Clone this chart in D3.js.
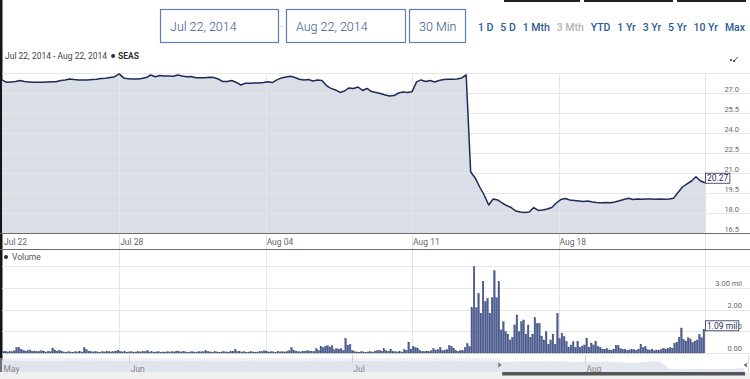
<!DOCTYPE html>
<html><head><meta charset="utf-8">
<script src="https://cdn.jsdelivr.net/npm/d3@7"></script>
<style>
body{margin:0;background:#fff;overflow:hidden;}
svg{display:block;font-family:Roboto,'Liberation Sans',sans-serif;}
</style>
</head><body>
<svg id="c" width="750" height="379"></svg>
<script>
// ---------------- DATA ----------------
const symbol = "SEAS";
const dateFrom = "Jul 22, 2014";
const dateTo = "Aug 22, 2014";
const intervalLabel = "30 Min";
const rangeButtons = ["1 D","5 D","1 Mth","3 Mth","YTD","1 Yr","3 Yr","5 Yr","10 Yr","Max"];
const selectedRange = "3 Mth";

const tradingDays = ["Jul 22","Jul 23","Jul 24","Jul 25","Jul 28","Jul 29","Jul 30","Jul 31","Aug 01",
  "Aug 04","Aug 05","Aug 06","Aug 07","Aug 08","Aug 11","Aug 12","Aug 13","Aug 14","Aug 15",
  "Aug 18","Aug 19","Aug 20","Aug 21","Aug 22"];
const tickLabels = ["Jul 22","Jul 28","Aug 04","Aug 11","Aug 18"];
const barsPerDay = 13;      // 30-minute bars per session
const priceStep = 2;        // price sampled every 2 bars

const prices = [
 27.98,27.80,27.83,27.86,27.93,27.86,27.83,27.80,27.80,27.80,27.83,27.85,27.85,27.94,27.98,28.05,28.01,27.98,27.98,27.98,
 28.01,28.03,28.09,28.10,28.16,28.22,28.43,28.13,28.06,28.05,28.05,28.09,28.16,28.35,28.22,28.31,28.28,28.28,28.25,28.35,
 28.28,28.22,28.24,28.15,28.15,28.15,28.18,28.16,28.05,27.86,27.86,27.94,27.79,27.60,27.73,27.73,27.75,27.75,27.78,27.85,
 27.78,27.98,28.13,28.20,28.25,28.16,28.03,27.98,28.01,27.90,27.98,27.93,27.56,27.35,27.23,27.04,27.15,27.38,27.34,27.45,
 27.19,27.34,27.11,27.04,26.96,26.85,26.78,26.81,27.00,27.08,27.04,27.10,27.83,27.98,27.86,27.94,27.83,27.94,28.01,28.03,
 28.03,28.05,28.13,28.35,21.08,20.63,19.95,19.35,18.60,19.05,18.98,18.75,18.56,18.41,18.15,18.08,18.04,18.08,18.41,18.19,
 18.23,18.30,18.41,18.75,19.01,19.09,18.98,18.94,18.90,18.86,18.90,18.83,18.79,18.77,18.79,18.77,18.83,18.92,19.01,19.10,
 19.01,19.05,19.03,19.05,19.05,19.03,19.05,19.03,19.05,19.10,19.54,19.95,20.18,20.40,20.72,20.40,20.27];

// volume in millions, one row of 13 half-hour bars per trading day
const volumes = [
 [0.06,0.08,0.05,0.07,0.06,0.10,0.25,0.25,0.17,0.12,0.09,0.10,0.14],
 [0.08,0.09,0.06,0.07,0.10,0.07,0.05,0.08,0.06,0.23,0.14,0.09,0.12],
 [0.06,0.05,0.04,0.06,0.05,0.04,0.06,0.05,0.07,0.05,0.25,0.15,0.08],
 [0.06,0.05,0.07,0.05,0.04,0.06,0.05,0.07,0.06,0.05,0.06,0.09,0.12],
 [0.07,0.05,0.06,0.04,0.05,0.06,0.04,0.05,0.06,0.05,0.07,0.06,0.11],
 [0.05,0.06,0.04,0.05,0.06,0.04,0.05,0.04,0.06,0.05,0.06,0.05,0.09],
 [0.06,0.05,0.08,0.05,0.04,0.05,0.06,0.04,0.05,0.06,0.05,0.07,0.10],
 [0.06,0.05,0.04,0.06,0.05,0.04,0.05,0.06,0.05,0.04,0.06,0.08,0.17],
 [0.07,0.06,0.05,0.06,0.04,0.05,0.06,0.05,0.04,0.05,0.06,0.07,0.10],
 [0.06,0.05,0.06,0.05,0.04,0.08,0.05,0.06,0.05,0.07,0.10,0.25,0.12],
 [0.08,0.06,0.05,0.09,0.08,0.10,0.09,0.06,0.07,0.20,0.12,0.30,0.25],
 [0.30,0.33,0.28,0.33,0.15,0.20,0.18,0.20,0.12,0.66,0.35,0.40,0.12],
 [0.06,0.05,0.04,0.06,0.05,0.04,0.05,0.06,0.04,0.09,0.10,0.12,0.09],
 [0.20,0.10,0.08,0.15,0.07,0.06,0.05,0.06,0.05,0.15,0.12,0.50,0.18],
 [0.30,0.25,0.20,0.10,0.08,0.07,0.09,0.06,0.10,0.20,0.12,0.15,0.25],
 [0.10,0.12,0.15,0.35,0.30,0.20,0.10,0.08,0.12,0.10,0.25,0.43,0.30],
 [2.08,3.97,2.08,2.74,1.82,3.30,2.36,2.51,1.82,2.54,3.78,2.54,3.28],
 [1.06,1.44,0.98,0.87,0.60,0.72,1.29,1.75,0.98,1.44,1.52,0.87,1.29],
 [0.72,0.87,1.62,1.36,1.36,0.78,0.60,0.98,0.40,0.60,0.87,0.40,1.82],
 [0.66,0.90,0.75,0.52,0.26,0.37,0.52,0.26,0.52,0.26,0.32,0.37,0.66],
 [0.26,0.46,0.37,0.52,0.30,0.26,0.18,0.15,0.20,0.14,0.12,0.18,0.35],
 [0.35,0.20,0.15,0.18,0.12,0.14,0.16,0.15,0.12,0.18,0.40,0.25,0.30],
 [0.15,0.12,0.18,0.10,0.14,0.12,0.16,0.22,0.18,0.20,0.25,0.22,0.45],
 [0.50,0.72,1.15,0.62,0.55,0.70,0.65,0.48,0.55,0.60,0.85,0.70,1.09]];

const priceTicks = [16.5,18.0,19.5,21.0,22.5,24.0,25.5,27.0];
const priceMax = 28.5;
const volumeTicks = [0,1,2,3];
const volumeMax = 4;

// navigator: daily closes May 14 – Aug 22, 2014
const navMonths = ["May","Jun","Jul","Aug"];
const navMonthDays = [12,21,22,16];
const navCloses = [
 29.1,29.0,28.8,28.9,28.6,28.7,28.9,29.0,29.2,29.0,28.8,28.9,
 28.7,28.5,28.6,28.4,28.3,28.5,28.6,28.4,28.2,28.0,28.1,28.3,28.4,28.2,28.0,27.9,28.1,28.3,28.4,28.2,28.3,
 28.5,28.6,28.7,28.4,28.2,28.3,28.1,28.2,28.4,28.3,28.5,28.2,28.0,27.9,27.9,27.8,28.0,28.1,28.3,28.2,28.1,27.8,
 27.8,27.9,28.1,27.2,27.0,27.0,27.9,28.3,18.6,18.1,18.4,19.0,18.8,19.0,19.1,20.3];
const navSelStart = 47;   // Jul 22 (trading-day index)
const navSelEnd = 70;     // Aug 22

// ---------------- DRAW ----------------
const svg = d3.select("#c");
const W = 750, H = 379;
const L = {x0:2, x1:705, pTop:73, pBot:233, sep2:249, vTop:266, vBot:353,
           navTop:355, navBot:372, navX0:2, navX1:744};
const navy = "#1f2b57", grid = "#e6e6e6", axisText = "#666";

const nBars = tradingDays.length * barsPerDay;
const x = d3.scaleLinear().domain([0, nBars]).range([L.x0, L.x1]);
const yP = d3.scaleLinear().domain([priceTicks[0], priceMax]).range([L.pBot, L.pTop]);
const yV = d3.scaleLinear().domain([0, volumeMax]).range([L.vBot, L.vTop]);

// left dark strip and top dark bars
svg.append("rect").attr("x",0).attr("y",0).attr("width",2.5).attr("height",H).attr("fill","#151515");
[[504,580],[584,673],[677,746]].forEach(([a,b])=>svg.append("rect").attr("x",a).attr("y",0).attr("width",b-a).attr("height",2).attr("fill","#222"));

// controls
function inputBox(x0, w, label){
  svg.append("rect").attr("x",x0+0.5).attr("y",9.5).attr("width",w).attr("height",33)
    .attr("fill","#fff").attr("stroke","#5d80b1").attr("stroke-width",1.2);
  svg.append("text").attr("x",x0+10).attr("y",31).attr("font-size",12.5).attr("font-weight",300)
    .attr("fill","#35578a").text(label);
}
inputBox(160,118,dateFrom);
svg.append("text").attr("x",282).attr("y",29).attr("font-size",8).attr("fill","#999").attr("text-anchor","middle").text("-");
inputBox(286,119,dateTo);
inputBox(409,56,intervalLabel);

const btnG = svg.append("g");
const btns = btnG.selectAll("text").data(rangeButtons).join("text")
  .attr("y",31).attr("font-size",10.5).attr("font-weight",500)
  .attr("fill",d=> d===selectedRange ? "#b3b3b3" : "#2b5a97").text(d=>d);
const widths = btns.nodes().map(n=>n.getComputedTextLength());
const bx0 = 478, bx1 = 745;
const gap = (bx1 - bx0 - d3.sum(widths)) / (rangeButtons.length-1);
let cx = bx0;
btns.each(function(d,i){ d3.select(this).attr("x",cx); cx += widths[i] + gap; });

// subtitle
const sub = svg.append("text").attr("x",5).attr("y",59).attr("font-size",8.5).attr("fill","#444").text(dateFrom+" - "+dateTo);
const sw = sub.node().getComputedTextLength();
svg.append("circle").attr("cx",5+sw+6).attr("cy",56).attr("r",2).attr("fill",navy);
svg.append("text").attr("x",5+sw+11).attr("y",59).attr("font-size",8.5).attr("font-weight",700).attr("fill","#333").text(symbol);

// small icon
const ic = svg.append("g").attr("fill","#333").attr("stroke","#333");
ic.append("circle").attr("cx",731).attr("cy",60).attr("r",1).attr("stroke","none");
ic.append("circle").attr("cx",734).attr("cy",61).attr("r",1).attr("stroke","none");
ic.append("path").attr("d","M734,61 L737,58").attr("stroke-width",0.8).attr("fill","none");
ic.append("circle").attr("cx",737.5).attr("cy",57.5).attr("r",0.6).attr("stroke","none");

// ---- price panel ----
const area = d3.area().x(d=>x(d.b)).y0(L.pBot).y1(d=>yP(d.v));
const line = d3.line().x(d=>x(d.b)).y(d=>yP(d.v));
const pData = prices.map((v,i)=>({b:i*priceStep, v}));

svg.append("path").datum(pData).attr("d",area).attr("fill","#d9dee7");

// horizontal grid (price)
[...priceTicks.slice(1), priceMax].forEach(t=>{
  svg.append("line").attr("x1",L.x0).attr("x2",W).attr("y1",Math.round(yP(t))+0.5).attr("y2",Math.round(yP(t))+0.5)
    .attr("stroke",grid).attr("stroke-width",1);
});
// vertical grid
const tickBars = tickLabels.map(l=>tradingDays.indexOf(l)*barsPerDay);
[...tickBars.filter(b=>b>0), nBars].forEach(b=>{
  const xx = Math.round(x(b))+0.5;
  svg.append("line").attr("x1",xx).attr("x2",xx).attr("y1",L.pTop).attr("y2",L.vBot).attr("stroke",grid);
});

svg.append("path").datum(pData).attr("d",line).attr("fill","none").attr("stroke",navy)
  .attr("stroke-width",1.5).attr("stroke-linejoin","round");

// price labels
priceTicks.forEach(t=>{
  svg.append("text").attr("x",739).attr("y",yP(t)-1.5).attr("text-anchor","end")
    .attr("font-size",7.5).attr("fill",axisText).text(d3.format(".1f")(t));
});

// separators
[L.pBot, L.sep2].forEach(yy=>svg.append("line").attr("x1",0).attr("x2",W).attr("y1",yy+0.5).attr("y2",yy+0.5)
  .attr("stroke","#6b6b6b").attr("stroke-width",1));

// x labels
tickLabels.forEach((l,i)=>{
  svg.append("text").attr("x",x(tickBars[i])+ (i===0?2:1)).attr("y",244.5).attr("font-size",8.5)
    .attr("fill",axisText).text(l);
});

// last price flag
function flag(yCenter, label){
  const g = svg.append("g");
  const r = g.append("rect");
  const t = g.append("text").attr("x",L.x1+2).attr("y",yCenter+3.2).attr("font-size",8.5).attr("fill",navy).text(label);
  const tw = t.node().getComputedTextLength();
  r.attr("x",L.x1+0.5).attr("y",yCenter-5).attr("width",tw+3).attr("height",10)
   .attr("fill","#fff").attr("stroke",navy).attr("stroke-width",0.8);
}
const lastP = prices[prices.length-1];
flag(yP(lastP)-4.5, d3.format(".2f")(lastP));

// ---- volume panel ----
svg.append("circle").attr("cx",6).attr("cy",257).attr("r",2).attr("fill",navy);
svg.append("text").attr("x",12).attr("y",260).attr("font-size",8.5).attr("fill","#555").text("Volume");

[...volumeTicks, volumeMax].forEach(t=>{
  svg.append("line").attr("x1",L.x0).attr("x2",W).attr("y1",Math.round(yV(t))+0.5).attr("y2",Math.round(yV(t))+0.5)
    .attr("stroke",grid);
});
volumeTicks.forEach(t=>{
  svg.append("text").attr("x",742).attr("y",yV(t)-2).attr("text-anchor","end").attr("font-size",7.5)
    .attr("fill",axisText).text(d3.format(".2f")(t) + (t===volumeTicks[volumeTicks.length-1]?" mil":""));
});

const vFlat = volumes.flat();
svg.append("g").selectAll("rect").data(vFlat).join("rect")
  .attr("x",(d,i)=>x(i)+0.3).attr("width",Math.max(1,(x(1)-x(0))-0.6))
  .attr("y",d=>yV(d)).attr("height",d=>yV(0)-yV(d))
  .attr("fill","#4d5e96").attr("stroke","#2a3869").attr("stroke-width",0.3);

const lastV = vFlat[vFlat.length-1];
flag(yV(lastV)-3.5, d3.format(".2f")(lastV)+" mil");

// ---- navigator ----
const navX = d3.scaleLinear().domain([0, navCloses.length-1]).range([L.navX0, L.navX1]);
const navY = d3.scaleLinear().domain([15, 30]).range([L.navBot, 360]);
svg.append("rect").attr("x",0).attr("y",L.navBot).attr("width",W).attr("height",H-L.navBot).attr("fill","#efefef");
svg.append("path").datum(navCloses).attr("d", d3.area().x((d,i)=>navX(i)).y0(L.navBot).y1(d=>navY(d)))
  .attr("fill","#e3e7ee");
// mask outside selection
svg.append("rect").attr("x",0).attr("y",358).attr("width",navX(navSelStart)).attr("height",L.navBot-358)
  .attr("fill","rgba(220,225,234,0.45)");
// month ticks & labels
let acc = 0;
navMonths.forEach((m,i)=>{
  const xx = navX(acc);
  if(i>0) svg.append("line").attr("x1",Math.round(xx)+0.5).attr("x2",Math.round(xx)+0.5).attr("y1",L.navTop).attr("y2",363).attr("stroke","#cfcfcf");
  svg.append("text").attr("x",xx+1.5).attr("y",371.5).attr("font-size",8.5).attr("fill","#888").text(m);
  acc += navMonthDays[i];
});
// scrollbar thumb
svg.append("rect").attr("x",navX(navSelStart)+2).attr("y",L.navBot).attr("width",navX(navSelEnd)-navX(navSelStart)-1)
  .attr("height",3.5).attr("fill","#555");
// handles
const hx1 = navX(navSelStart), hx2 = navX(navSelEnd)+1;
svg.append("path").attr("d",`M${hx1-2},362.5 L${hx1+1.5},365 L${hx1-2},367.5 Z`).attr("fill","#777");
svg.append("path").attr("d",`M${hx2+2},362.5 L${hx2-1.5},365 L${hx2+2},367.5 Z`).attr("fill","#777");
svg.append("line").attr("x1",hx2+3.5).attr("x2",hx2+3.5).attr("y1",L.navTop).attr("y2",L.navBot).attr("stroke","#ddd");
</script>
</body></html>
